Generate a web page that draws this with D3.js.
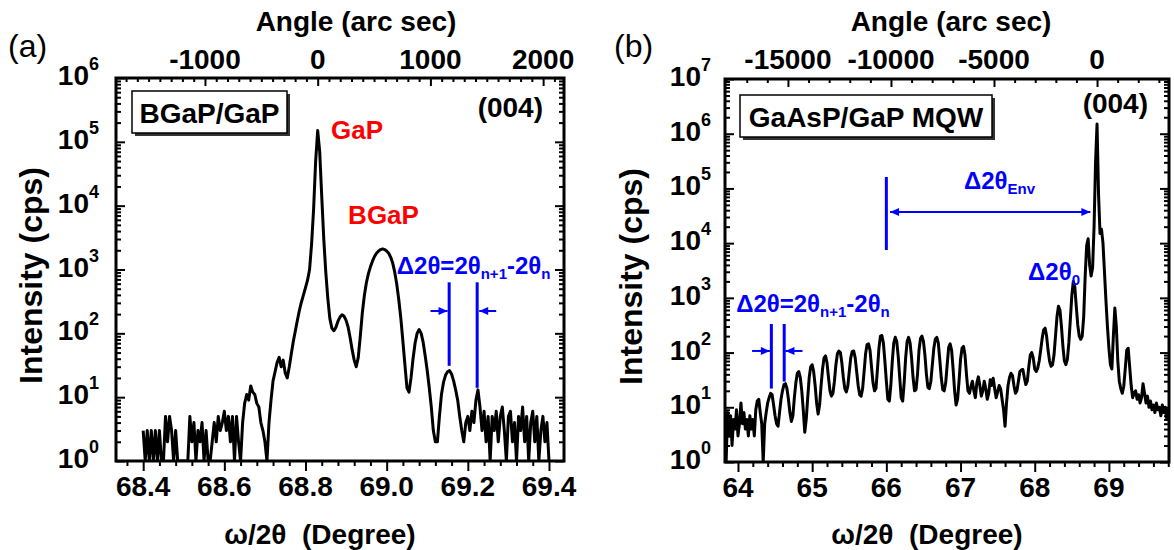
<!DOCTYPE html>
<html>
<head>
<meta charset="utf-8">
<script src="https://cdn.jsdelivr.net/npm/d3@7"></script>
<style>
  body { margin: 0; background: #fff; }
  svg { display: block; }
</style>
</head>
<body>
<script>
// (a) BGaP/GaP (004) scan: ω/2θ grid start, step and counts (cps)
const bgapStart = 68.40;
const bgapStep = 0.005;
const bgapCounts = [
  3,1,3,1,3,1,3,1,3,1, 1,5,2,5,3,1,3,1,1,1,
  1,1,1,5,2,4,1,3,2,4, 1,3,1,1,2,4,2,5,3,4,
  6,3,5,2,5,1,5,2,1,4, 8,11,9,15,12,11,8,7,4,3,
  2,1,4,9,18,25,35,42,30,38, 24,20,30,48,75,110,160,230,310,400,
  520,680,1000,2500,9000,50000,150000,70000,14000,3000, 900,350,170,120,110,125,155,180,195,185,
  160,125,85,55,38,30,42,90,210,390, 620,860,1100,1350,1600,1800,1950,2050,2100,2050,
  1950,1800,1550,1250,900,580,330,170,75,32, 14,12,20,40,70,100,115,100,72,44,
  26,14,7,3,2,2,5,11,17,22, 25,26,23,18,13,9,5,3,2,4,
  5,3,6,4,9,13,7,3,6,2, 5,1,5,3,6,2,5,7,3,1,
  5,6,2,4,1,5,3,7,2,5, 1,4,6,2,5,1,3,5,2,4,
  1
];

// (b) GaAsP/GaP MQW (004) scan
const mqwStart = 63.84;
const mqwStep = 0.02;
const mqwCounts = [
  1,8,3,7,2,6,4,9,3,5,
  12,5,8,4,6,3,7,4,6,3,
  9,13,14,8,5,1,5,8,12,15,
  18,17,11,7,5,4.5,8,14,20,26,
  27,22,14,8,5.5,7,15,28,42,45,
  35,20,9,3.5,6,15,35,55,60,45,
  25,12,7.5,11,25,50,80,87,65,35,
  20,16,18,30,60,95,107,100,65,35,
  22,19,24,45,80,105,107,80,45,25,
  17,16,22,45,95,140,144,110,55,28,
  20,22,50,120,200,205,150,70,30,14,
  13,25,70,150,190,160,85,35,15,13,
  28,80,160,190,150,80,35,20,21,40,
  110,180,200,160,90,40,23,22,30,60,
  120,175,190,150,75,35,21,20,28,60,
  125,144,110,50,20,11,14,30,75,120,
  130,90,40,20,18,24,30,20,15,28,
  36,25,16,20,30,22,14,18,32,25,
  34,22,15,19,25,22,14,9,4.5,12,
  25,35,42,38,25,18,20,30,45,48,
  49,35,26,30,55,90,100,80,50,45,
  52,70,110,180,260,280,200,110,70,56,
  60,90,200,450,700,600,300,130,70,60,
  75,150,400,1100,2000,1600,700,320,200,175,
  200,450,2500,9000,12000,4000,2500,3500,20000,300000,
  1500000,80000,15000,18000,10000,3000,900,300,120,60,
  50,200,650,300,70,30,22,18,24,50,
  110,120,55,25,15,18,20,14,17,12,
  15,27,18,12,16,10,13,9,11,8,
  12,9,10,7,11,8,10,6,9,7
];

// tick labels
const bgapDegTicks = [68.4, 68.6, 68.8, 69.0, 69.2, 69.4];
const bgapArcTicks = [-1000, 0, 1000, 2000];
const bgapPowers = [0, 1, 2, 3, 4, 5, 6];
const mqwDegTicks = [64, 65, 66, 67, 68, 69];
const mqwArcTicks = [-15000, -10000, -5000, 0];
const mqwPowers = [0, 1, 2, 3, 4, 5, 6, 7];

const FONT = '"Liberation Sans", Arial, Helvetica, sans-serif';
const BLUE = '#0000ff';
const RED = '#ff0000';

const svg = d3.select('body').append('svg')
  .attr('width', 1174)
  .attr('height', 550)
  .style('font-family', FONT);

function stepRange(d0, d1, step) {
  const a = Math.ceil(d0 / step - 1e-6), b = Math.floor(d1 / step + 1e-6);
  return d3.range(a, b + 1).map(k => +(k * step).toFixed(6));
}

function isMultiple(v, step) {
  return Math.abs(v / step - Math.round(v / step)) < 1e-6;
}

function drawPanel(p) {
  const g = svg.append('g');

  const x = d3.scaleLinear().domain(p.xDomain).range([p.left, p.right]);
  const y = d3.scaleLog().domain([1, Math.pow(10, p.maxPow)]).range([p.bottom, p.top]);
  const xTop = d3.scaleLinear()
    .domain(p.xDomain.map(d => (d - p.zeroDeg) * 3600))
    .range([p.left, p.right]);

  // clip for the curve
  g.append('clipPath').attr('id', p.id + '-clip')
    .append('rect')
    .attr('x', p.left).attr('y', p.top)
    .attr('width', p.right - p.left).attr('height', p.bottom - p.top);

  const data = p.counts.map((c, i) => [p.start + i * p.step, c]);
  const line = d3.line()
    .x(d => x(d[0]))
    .y(d => y(Math.max(d[1], 1)));

  g.append('path')
    .datum(data)
    .attr('clip-path', `url(#${p.id}-clip)`)
    .attr('fill', 'none')
    .attr('stroke', '#000')
    .attr('stroke-width', 3)
    .attr('stroke-linejoin', 'round')
    .attr('d', line);

  // ticks
  const tickGroup = (axis, tx, ty) => {
    const t = g.append('g')
      .attr('transform', `translate(${tx},${ty})`)
      .call(axis);
    t.select('.domain').remove();
    t.selectAll('line').attr('stroke', '#000').attr('stroke-width', 2);
    return t;
  };

  const xMinor = stepRange(p.xDomain[0], p.xDomain[1], p.degMinor).filter(v => !isMultiple(v, p.degMajor));
  const xMajor = stepRange(p.xDomain[0], p.xDomain[1], p.degMajor);
  tickGroup(d3.axisBottom(x).tickValues(xMinor).tickSize(5).tickFormat(''), 0, p.bottom);
  tickGroup(d3.axisBottom(x).tickValues(xMajor).tickSize(10).tickFormat(''), 0, p.bottom);

  const aDom = xTop.domain();
  const aMinor = stepRange(aDom[0], aDom[1], p.arcMinor).filter(v => !isMultiple(v, p.arcMajor));
  const aMajor = stepRange(aDom[0], aDom[1], p.arcMajor);
  tickGroup(d3.axisTop(xTop).tickValues(aMinor).tickSize(-4).tickFormat(''), 0, p.top);
  tickGroup(d3.axisTop(xTop).tickValues(aMajor).tickSize(-8).tickFormat(''), 0, p.top);

  const yMajor = p.powers.map(k => Math.pow(10, k));
  const yMinor = [];
  p.powers.slice(0, -1).forEach(k => {
    for (let m = 2; m <= 9; m++) yMinor.push(m * Math.pow(10, k));
  });
  tickGroup(d3.axisLeft(y).tickValues(yMinor).tickSize(-5).tickFormat(''), p.left, 0);
  tickGroup(d3.axisLeft(y).tickValues(yMajor).tickSize(-9).tickFormat(''), p.left, 0);
  tickGroup(d3.axisRight(y).tickValues(yMinor).tickSize(-5).tickFormat(''), p.right, 0);
  tickGroup(d3.axisRight(y).tickValues(yMajor).tickSize(-9).tickFormat(''), p.right, 0);

  // frame
  g.append('rect')
    .attr('x', p.left).attr('y', p.top)
    .attr('width', p.right - p.left).attr('height', p.bottom - p.top)
    .attr('fill', 'none').attr('stroke', '#000').attr('stroke-width', 3);

  // tick labels
  g.selectAll('.xlab').data(p.degTicks).enter().append('text')
    .attr('x', d => x(d)).attr('y', p.bottom + 35)
    .attr('text-anchor', 'middle')
    .attr('font-size', 28).attr('font-weight', 'bold')
    .text(d => p.degFormat(d));

  g.selectAll('.alab').data(p.arcTicks).enter().append('text')
    .attr('x', d => xTop(d)).attr('y', 69)
    .attr('text-anchor', 'middle')
    .attr('font-size', 28).attr('font-weight', 'bold')
    .text(d => d);

  p.powers.forEach(k => {
    const t = g.append('text')
      .attr('x', p.left - p.yLabGap).attr('y', y(Math.pow(10, k)) + 7)
      .attr('text-anchor', 'end')
      .attr('font-size', 28).attr('font-weight', 'bold');
    t.append('tspan').text('10');
    t.append('tspan').attr('font-size', 18).attr('dy', -15).text(k);
  });

  // axis titles
  g.append('text')
    .attr('x', p.angleTitleX).attr('y', 31)
    .attr('text-anchor', 'middle')
    .attr('font-size', 28).attr('font-weight', 'bold')
    .text('Angle (arc sec)');

  g.append('text')
    .attr('x', p.xTitleX).attr('y', 544)
    .attr('text-anchor', 'middle')
    .attr('font-size', 28).attr('font-weight', 'bold')
    .attr('xml:space', 'preserve')
    .text('ω/2θ  (Degree)');

  g.append('text')
    .attr('transform', `translate(${p.yTitleX},${(p.top + p.bottom) / 2 + 6}) rotate(-90)`)
    .attr('text-anchor', 'middle')
    .attr('font-size', 32).attr('font-weight', 'bold')
    .text('Intensity (cps)');

  g.append('text')
    .attr('x', p.tagX).attr('y', 57)
    .attr('font-size', 32)
    .text(p.tag);

  // sample legend with shadow
  const lb = p.legend;
  g.append('rect').attr('x', lb.x + 3).attr('y', lb.y + 3)
    .attr('width', lb.w).attr('height', lb.h).attr('fill', '#333');
  g.append('rect').attr('x', lb.x).attr('y', lb.y)
    .attr('width', lb.w).attr('height', lb.h)
    .attr('fill', '#fff').attr('stroke', '#000').attr('stroke-width', 1.5);
  g.append('text').attr('x', lb.x + lb.w / 2).attr('y', lb.y + 32)
    .attr('text-anchor', 'middle')
    .attr('font-size', 28).attr('font-weight', 'bold')
    .text(lb.text);

  g.append('text')
    .attr('x', p.right - 21).attr('y', p.reflY)
    .attr('text-anchor', 'end')
    .attr('font-size', 28).attr('font-weight', 'bold')
    .text('(004)');

  return { g, x, y };
}

function deltaLabel(g, px, py, parts) {
  const t = g.append('text')
    .attr('x', px).attr('y', py)
    .attr('fill', BLUE)
    .attr('font-size', 24).attr('font-weight', 'bold');
  parts.forEach(([s, sub]) => {
    t.append('tspan')
      .attr('font-size', sub === 1 ? 15 : 24)
      .attr('dy', sub === 1 ? 5 : sub === -1 ? -5 : 0)
      .text(s);
  });
  return t;
}

function vline(g, px, y1, y2) {
  g.append('line')
    .attr('x1', px).attr('x2', px).attr('y1', y1).attr('y2', y2)
    .attr('stroke', BLUE).attr('stroke-width', 3);
}

function arrow(g, x1, x2, py, both) {
  g.append('line')
    .attr('x1', x1).attr('x2', x2).attr('y1', py).attr('y2', py)
    .attr('stroke', BLUE).attr('stroke-width', 2);
  const head = (tip, dir) => {
    g.append('path')
      .attr('d', `M${tip},${py} L${tip - dir * 9},${py - 4} L${tip - dir * 9},${py + 4} Z`)
      .attr('fill', BLUE);
  };
  head(x2, x2 > x1 ? 1 : -1);
  if (both) head(x1, x2 > x1 ? -1 : 1);
}

// ---- panel (a)
const a = drawPanel({
  id: 'pa', tag: '(a)', tagX: 8,
  left: 116, right: 564, top: 78, bottom: 461,
  xDomain: [68.333, 69.437], maxPow: 6, zeroDeg: 68.83,
  start: bgapStart, step: bgapStep, counts: bgapCounts,
  degMinor: 0.04, degMajor: 0.2, arcMinor: 100, arcMajor: 1000,
  degTicks: bgapDegTicks, arcTicks: bgapArcTicks, powers: bgapPowers,
  degFormat: d3.format('.1f'), yLabGap: 17,
  angleTitleX: 356, xTitleX: 320, yTitleX: 42, reflY: 117,
  legend: { x: 132, y: 91, w: 155, h: 42, text: 'BGaP/GaP' }
});

a.g.append('text').attr('x', a.x(68.863)).attr('y', a.y(1.1e5))
  .attr('fill', RED).attr('font-size', 26).attr('font-weight', 'bold').text('GaP');
a.g.append('text').attr('x', a.x(68.905)).attr('y', a.y(5200))
  .attr('fill', RED).attr('font-size', 26).attr('font-weight', 'bold').text('BGaP');

deltaLabel(a.g, a.x(69.025), a.y(850),
  [['Δ2θ=2θ', 0], ['n+1', 1], ['-2θ', -1], ['n', 1]]);
vline(a.g, a.x(69.154), a.y(630), a.y(31));
vline(a.g, a.x(69.223), a.y(630), a.y(14));
arrow(a.g, a.x(69.108), a.x(69.15), a.y(224), false);
arrow(a.g, a.x(69.27), a.x(69.228), a.y(224), false);

// ---- panel (b)
const b = drawPanel({
  id: 'pb', tag: '(b)', tagX: 614,
  left: 725, right: 1169, top: 79, bottom: 462,
  xDomain: [63.825, 69.81], maxPow: 7, zeroDeg: 68.84,
  start: mqwStart, step: mqwStep, counts: mqwCounts,
  degMinor: 0.2, degMajor: 1, arcMinor: 1000, arcMajor: 5000,
  degTicks: mqwDegTicks, arcTicks: mqwArcTicks, powers: mqwPowers,
  degFormat: d3.format('d'), yLabGap: 14,
  angleTitleX: 951, xTitleX: 927, yTitleX: 642, reflY: 113,
  legend: { x: 740, y: 95, w: 252, h: 42, text: 'GaAsP/GaP MQW' }
});

deltaLabel(b.g, b.x(63.975), b.y(560),
  [['Δ2θ=2θ', 0], ['n+1', 1], ['-2θ', -1], ['n', 1]]);
vline(b.g, b.x(64.45), b.y(333), b.y(22));
vline(b.g, b.x(64.623), b.y(333), b.y(29.5));
arrow(b.g, b.x(64.19), b.x(64.43), b.y(107), false);
arrow(b.g, b.x(64.87), b.x(64.64), b.y(107), false);

vline(b.g, b.x(66.0), b.y(162000), b.y(7500));
arrow(b.g, b.x(66.05), b.x(68.75), b.y(37000), true);
deltaLabel(b.g, b.x(67.047), b.y(98000), [['Δ2θ', 0], ['Env', 1]]);
deltaLabel(b.g, b.x(67.91), b.y(2120), [['Δ2θ', 0], ['0', 1]]);
</script>
</body>
</html>
